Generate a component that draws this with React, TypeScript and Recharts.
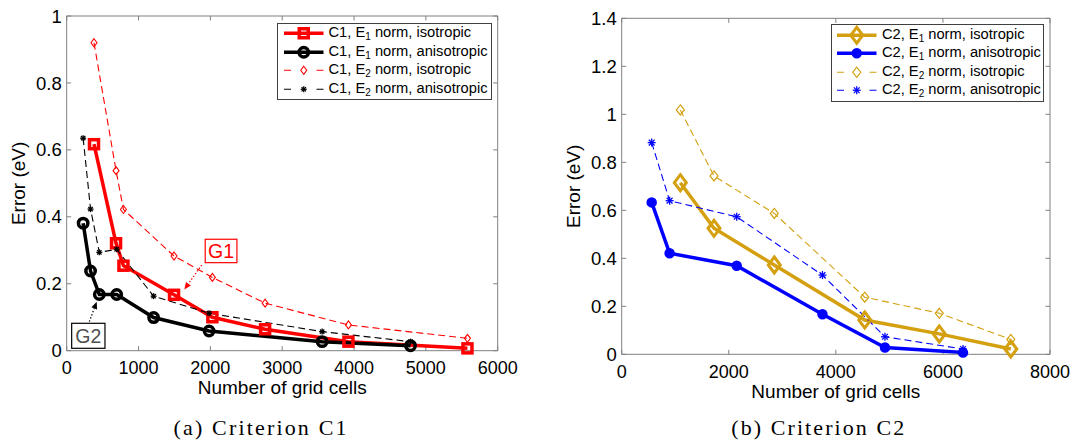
import React from 'react';
import { LineChart, Line, XAxis, YAxis, ReferenceLine, ReferenceDot, Legend } from 'recharts';

const SANS = '"Liberation Sans", Arial, Helvetica, sans-serif';
const SERIF = '"Liberation Serif", "Times New Roman", serif';
const AXIS = '#808080';
const RED = '#ff0000';
const BLACK = '#000000';
const GOLD = '#d4a010';
const BLUE = '#0000ff';

// Criterion C1 (left panel)
const c1IsoCells = [380, 687, 790, 1494, 2028, 2762, 3922, 5579];
const c1AnisoCells = [229, 332, 454, 696, 1210, 1982, 3556, 4786];
const c1IsoE1 = [0.617, 0.321, 0.254, 0.167, 0.1, 0.064, 0.027, 0.007];
const c1AnisoE1 = [0.381, 0.238, 0.168, 0.168, 0.099, 0.059, 0.027, 0.015];
const c1IsoE2 = [0.92, 0.538, 0.422, 0.283, 0.219, 0.142, 0.077, 0.037];
const c1AnisoE2 = [0.635, 0.423, 0.294, 0.303, 0.163, 0.112, 0.057, 0.027];

// Criterion C2 (right panel)
const c2IsoCells = [1095, 1724, 2850, 4540, 5932, 7268];
const c2AnisoCells = [560, 895, 2148, 3750, 4918, 6375];
const c2IsoE1 = [0.715, 0.525, 0.372, 0.143, 0.085, 0.022];
const c2AnisoE1 = [0.633, 0.421, 0.369, 0.167, 0.028, 0.007];
const c2IsoE2 = [1.018, 0.743, 0.587, 0.238, 0.171, 0.062];
const c2AnisoE2 = [0.882, 0.64, 0.573, 0.33, 0.073, 0.022];

const c1XTicks = [0, 1000, 2000, 3000, 4000, 5000, 6000];
const c1YTicks = [0, 0.2, 0.4, 0.6, 0.8, 1];
const c2XTicks = [0, 2000, 4000, 6000, 8000];
const c2YTicks = [0, 0.2, 0.4, 0.6, 0.8, 1, 1.2, 1.4];

// annotation anchors, in data units of the C1 panel
const g1Box = { x: 2149, y: 0.298, label: 'G1' };
const g1Arrow = [{ x: 1880, y: 0.256 }, { x: 1638, y: 0.183 }];
const g2Box = { x: 301, y: 0.0445, label: 'G2' };
const g2Arrow = [{ x: 315, y: 0.087 }, { x: 418, y: 0.146 }];

const toPoints = (cells: number[], errs: number[]) => cells.map((x, i) => ({ x, y: errs[i] }));

type MarkerKind = 'square' | 'ring' | 'disc' | 'bigDiamond' | 'diamond' | 'smallDiamond' | 'star' | 'smallStar';

interface Series {
  crit: string;
  norm: string;
  kind: string;
  color: string;
  solid: boolean;
  marker: MarkerKind;
  data: { x: number; y: number }[];
}

const c1Series: Series[] = [
  { crit: 'C1', norm: '1', kind: 'isotropic', color: RED, solid: true, marker: 'square', data: toPoints(c1IsoCells, c1IsoE1) },
  { crit: 'C1', norm: '1', kind: 'anisotropic', color: BLACK, solid: true, marker: 'ring', data: toPoints(c1AnisoCells, c1AnisoE1) },
  { crit: 'C1', norm: '2', kind: 'isotropic', color: RED, solid: false, marker: 'smallDiamond', data: toPoints(c1IsoCells, c1IsoE2) },
  { crit: 'C1', norm: '2', kind: 'anisotropic', color: BLACK, solid: false, marker: 'smallStar', data: toPoints(c1AnisoCells, c1AnisoE2) },
];

const c2Series: Series[] = [
  { crit: 'C2', norm: '1', kind: 'isotropic', color: GOLD, solid: true, marker: 'bigDiamond', data: toPoints(c2IsoCells, c2IsoE1) },
  { crit: 'C2', norm: '1', kind: 'anisotropic', color: BLUE, solid: true, marker: 'disc', data: toPoints(c2AnisoCells, c2AnisoE1) },
  { crit: 'C2', norm: '2', kind: 'isotropic', color: GOLD, solid: false, marker: 'diamond', data: toPoints(c2IsoCells, c2IsoE2) },
  { crit: 'C2', norm: '2', kind: 'anisotropic', color: BLUE, solid: false, marker: 'star', data: toPoints(c2AnisoCells, c2AnisoE2) },
];

function Marker({ kind, cx, cy, color }: { kind: MarkerKind; cx: number; cy: number; color: string }) {
  switch (kind) {
    case 'square':
      return <rect x={cx - 4.5} y={cy - 4.5} width={9} height={9} fill="none" stroke={color} strokeWidth={3.5} />;
    case 'ring':
      return <circle cx={cx} cy={cy} r={4.7} fill="none" stroke={color} strokeWidth={3.5} />;
    case 'disc':
      return <circle cx={cx} cy={cy} r={4.5} fill={color} stroke={color} strokeWidth={1.5} />;
    case 'bigDiamond':
      return <path d={`M${cx},${cy - 8} L${cx + 6},${cy} L${cx},${cy + 8} L${cx - 6},${cy} Z`} fill="none" stroke={color} strokeWidth={3} />;
    case 'diamond':
      return <path d={`M${cx},${cy - 5} L${cx + 4},${cy} L${cx},${cy + 5} L${cx - 4},${cy} Z`} fill="none" stroke={color} strokeWidth={1.2} />;
    case 'smallDiamond':
      return <path d={`M${cx},${cy - 4} L${cx + 3},${cy} L${cx},${cy + 4} L${cx - 3},${cy} Z`} fill="none" stroke={color} strokeWidth={1.1} />;
    case 'star':
    case 'smallStar': {
      const r = kind === 'star' ? 4 : 3;
      const d = r * 0.72;
      return (
        <g stroke={color} strokeWidth={1.3}>
          <line x1={cx} y1={cy - r} x2={cx} y2={cy + r} />
          <line x1={cx - r} y1={cy} x2={cx + r} y2={cy} />
          <line x1={cx - d} y1={cy - d} x2={cx + d} y2={cy + d} />
          <line x1={cx - d} y1={cy + d} x2={cx + d} y2={cy - d} />
        </g>
      );
    }
  }
  return null;
}

function LegendBox({ series }: { series: Series[] }) {
  return (
    <div
      style={{
        boxSizing: 'border-box',
        width: '100%',
        border: '1px solid #404040',
        background: '#fff',
        padding: '0.5px 0 0.8px 5.7px',
        fontFamily: SANS,
        fontSize: 14.7,
        color: '#000',
      }}
    >
      {series.map((s, i) => (
        <div key={i} style={{ display: 'flex', alignItems: 'center', height: 18.5, lineHeight: '18.5px', whiteSpace: 'nowrap' }}>
          <svg width={39.5} height={18.5} style={{ flex: 'none', overflow: 'visible' }}>
            <line
              x1={0}
              y1={9.25}
              x2={39.5}
              y2={9.25}
              stroke={s.color}
              strokeWidth={s.solid ? 3.5 : 1.1}
              strokeDasharray={s.solid ? undefined : '7 25.5 7'}
            />
            <Marker kind={s.marker} cx={19.75} cy={9.25} color={s.color} />
          </svg>
          <span style={{ marginLeft: 5 }}>
            {s.crit}, E
            <span style={{ fontSize: '0.68em', position: 'relative', top: 3 }}>{s.norm}</span> norm, {s.kind}
          </span>
        </div>
      ))}
    </div>
  );
}

// draws short inward ticks at both ends of a reference line (box-style axes)
const boxTicks = (len: number) => (p: any) => {
  const { x1, y1, x2, y2 } = p;
  const dx = x2 - x1;
  const dy = y2 - y1;
  const L = Math.hypot(dx, dy) || 1;
  const ux = (dx / L) * len;
  const uy = (dy / L) * len;
  return (
    <g stroke={AXIS} strokeWidth={1}>
      <line x1={x1} y1={y1} x2={x1 + ux} y2={y1 + uy} />
      <line x1={x2} y1={y2} x2={x2 - ux} y2={y2 - uy} />
    </g>
  );
};

const arrowShape = (color: string) => (p: any) => {
  const { x1, y1, x2, y2 } = p;
  const dx = x2 - x1;
  const dy = y2 - y1;
  const L = Math.hypot(dx, dy) || 1;
  const ux = dx / L;
  const uy = dy / L;
  const bx = x2 - ux * 7;
  const by = y2 - uy * 7;
  return (
    <g>
      <line x1={x1} y1={y1} x2={bx} y2={by} stroke={color} strokeWidth={1.3} strokeDasharray="1.3 2" />
      <path d={`M${x2},${y2} L${bx - uy * 3},${by + ux * 3} L${bx + uy * 3},${by - ux * 3} Z`} fill={color} />
    </g>
  );
};

const boxLabel = (label: string, border: string, textColor: string, w: number, h: number) => (p: any) => {
  const { cx, cy } = p;
  return (
    <g>
      <rect x={cx - w / 2} y={cy - h / 2} width={w} height={h} fill="#fff" stroke={border} strokeWidth={1.2} />
      <text x={cx} y={cy + 7} textAnchor="middle" fontFamily={SANS} fontSize={19.5} fill={textColor}>
        {label}
      </text>
    </g>
  );
};

interface PanelProps {
  series: Series[];
  xTicks: number[];
  yTicks: number[];
  width: number;
  margin: { top: number; right: number; bottom: number; left: number };
  caption: string;
  captionShift: number;
  legendPos: { left: number; top: number; width: number };
  children?: React.ReactNode;
}

function Panel({ series, xTicks, yTicks, width, margin, caption, captionShift, legendPos, children }: PanelProps) {
  const xMax = xTicks[xTicks.length - 1];
  const yMax = yTicks[yTicks.length - 1];
  return (
    <LineChart width={width} height={441} margin={margin}>
      <XAxis
        type="number"
        dataKey="x"
        domain={[0, xMax]}
        ticks={xTicks}
        interval={0}
        tickLine={false}
        tickSize={0}
        tickMargin={11}
        height={30}
        axisLine={{ stroke: AXIS }}
        tick={{ fill: '#000', fontSize: 18, fontFamily: SANS }}
        label={{
          content: ({ viewBox }: any) => (
            <g>
              <text x={viewBox.x + viewBox.width / 2} y={viewBox.y + 43.5} textAnchor="middle" fontFamily={SANS} fontSize={19} fill="#000">
                Number of grid cells
              </text>
              <text
                x={viewBox.x + viewBox.width / 2 + captionShift}
                y={435}
                textAnchor="middle"
                fontFamily={SERIF}
                fontSize={22}
                fill="#000"
                textLength={173}
                lengthAdjust="spacing"
              >
                {caption}
              </text>
            </g>
          ),
        }}
      />
      <YAxis
        type="number"
        domain={[0, yMax]}
        ticks={yTicks}
        interval={0}
        width={60}
        tickLine={false}
        tickSize={0}
        tickMargin={5}
        axisLine={{ stroke: AXIS }}
        tick={{ fill: '#000', fontSize: 18.5, fontFamily: SANS }}
        label={{
          content: ({ viewBox }: any) => {
            const bx = viewBox.x + viewBox.width - 41.5;
            const cy = viewBox.y + viewBox.height / 2;
            return (
              <text x={bx} y={cy} transform={`rotate(-90, ${bx}, ${cy})`} textAnchor="middle" fontFamily={SANS} fontSize={19} fill="#000">
                Error (eV)
              </text>
            );
          },
        }}
      />
      {xTicks.map((t) => (
        <ReferenceLine key={`xt${t}`} x={t} shape={boxTicks(4.5)} ifOverflow="visible" />
      ))}
      {yTicks.map((t) => (
        <ReferenceLine key={`yt${t}`} y={t} shape={boxTicks(4.5)} ifOverflow="visible" />
      ))}
      <ReferenceLine x={xMax} stroke={AXIS} strokeWidth={1} ifOverflow="visible" />
      <ReferenceLine y={yMax} stroke={AXIS} strokeWidth={1} ifOverflow="visible" />
      {children}
      {series.map((s, i) => (
        <Line
          key={i}
          data={s.data}
          dataKey="y"
          type="linear"
          stroke={s.color}
          strokeWidth={s.solid ? 3.5 : 1.1}
          strokeDasharray={s.solid ? undefined : '7 4'}
          isAnimationActive={false}
          activeDot={false}
          legendType="none"
          dot={(p: any) => <Marker key={`m${i}-${p.index}`} kind={s.marker} cx={p.cx} cy={p.cy} color={s.color} />}
        />
      ))}
      <Legend
        layout="horizontal"
        verticalAlign="middle"
        align="center"
        wrapperStyle={{ position: 'absolute', left: legendPos.left, top: legendPos.top, width: legendPos.width }}
        content={() => <LegendBox series={series} />}
      />
    </LineChart>
  );
}

export default function App() {
  return (
    <div style={{ position: 'absolute', left: 0, top: 0, width: 1075, height: 441, background: '#fff', overflow: 'hidden' }}>
      <div style={{ position: 'absolute', left: 0, top: 0 }}>
        <Panel
          series={c1Series}
          xTicks={c1XTicks}
          yTicks={c1YTicks}
          width={540}
          margin={{ top: 16, right: 42.3, bottom: 60.3, left: 6.7 }}
          caption="(a) Criterion C1"
          captionShift={-22.2}
          legendPos={{ left: 277.3, top: 22.7, width: 215 }}
        >
          <ReferenceLine segment={g1Arrow} shape={arrowShape(RED)} ifOverflow="visible" />
          <ReferenceLine segment={g2Arrow} shape={arrowShape(BLACK)} ifOverflow="visible" />
          <ReferenceDot x={g1Box.x} y={g1Box.y} r={1} ifOverflow="visible" shape={boxLabel(g1Box.label, RED, RED, 31.7, 23.4)} />
          <ReferenceDot x={g2Box.x} y={g2Box.y} r={1} ifOverflow="visible" shape={boxLabel(g2Box.label, BLACK, '#505050', 33.3, 25)} />
        </Panel>
      </div>
      <div style={{ position: 'absolute', left: 540, top: 0 }}>
        <Panel
          series={c2Series}
          xTicks={c2XTicks}
          yTicks={c2YTicks}
          width={535}
          margin={{ top: 18.3, right: 25, bottom: 56.7, left: 21.7 }}
          caption="(b) Criterion C2"
          captionShift={-18.1}
          legendPos={{ left: 290.7, top: 24.3, width: 213.6 }}
        />
      </div>
    </div>
  );
}
